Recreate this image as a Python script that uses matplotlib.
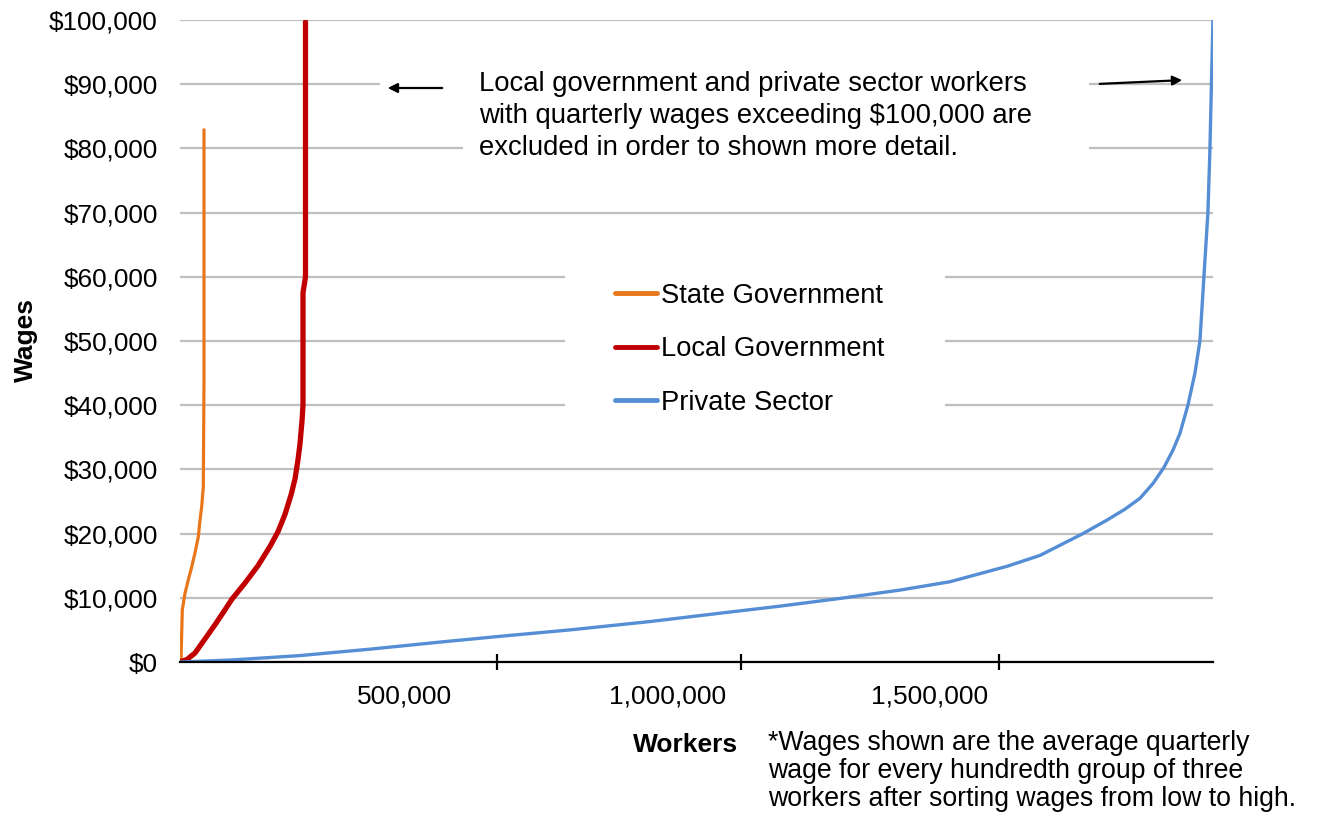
import matplotlib
matplotlib.use("Agg")
import matplotlib.pyplot as plt
from matplotlib.patches import Rectangle

plt.rcParams["font.family"] = ["Liberation Sans", "DejaVu Sans"]

# cumulative workers (sorted low to high) and average quarterly wage
state_workers = [0, 1905, 3240, 4380, 9525, 15800, 22290, 28570, 34860, 38100,
                 41340, 44390, 45720, 45720]
state_wages = [0, 300, 4500, 8100, 10700, 12800, 14800, 17000, 19500, 22100,
               24200, 27300, 43900, 82900]

local_workers = [0, 13335, 28575, 47625, 66675, 83820, 99060, 123825, 148590,
                 171450, 186690, 200025, 211455, 219075, 224790, 228600, 232410,
                 234315, 234315, 239078, 239078]
local_wages = [0, 400, 1400, 3600, 5800, 7900, 9800, 12300, 15000, 18000, 20300,
               23000, 26000, 28500, 31500, 34000, 37500, 40000, 57500, 60000, 99700]

private_workers = [0, 95250, 228600, 361950, 495300, 609600, 742950, 895350,
                   1028700, 1143000, 1257300, 1371600, 1466850, 1575400, 1638300,
                   1720200, 1765900, 1800200, 1828800, 1853600, 1874500, 1891700,
                   1905000, 1920200, 1933600, 1943100, 1950700, 1958300, 1962200,
                   1965000, 1967900]
private_wages = [0, 300, 1000, 2000, 3100, 4000, 5000, 6300, 7600, 8700, 9900,
                 11200, 12500, 14900, 16600, 20000, 22100, 23800, 25500, 27800,
                 30300, 33000, 35600, 40000, 45000, 50000, 60000, 70000, 80000,
                 90000, 100000]

wage_ticks = list(range(0, 100001, 10000))
x_tick_marks = [604000, 1069000, 1560000]
x_label_pos = [428600, 928600, 1428600]
x_labels = ["500,000", "1,000,000", "1,500,000"]

X_MAX = 1968000
PX = 1905          # workers per pixel, used for placing notes
W = 1326
H = 815


def dx(px):
    return (px - 180) * PX


def dy(py):
    return (662 - py) / 642 * 100000


fig = plt.figure(figsize=(W / 100, H / 100), dpi=100)
ax = fig.add_axes([180 / W, 1 - 662 / H, 1033 / W, 642 / H])

ax.set_xlim(0, X_MAX)
ax.set_ylim(0, 100000)

ax.plot(state_workers, state_wages, color="#E8761A", lw=2.3, label="State Government",
        solid_capstyle="round", solid_joinstyle="round", zorder=3)
ax.plot(local_workers, local_wages, color="#C00000", lw=3.8, label="Local Government",
        solid_capstyle="round", solid_joinstyle="round", zorder=3)
ax.plot(private_workers, private_wages, color="#558ED5", lw=2.4, label="Private Sector",
        solid_capstyle="round", solid_joinstyle="round", zorder=3)

ax.set_yticks(wage_ticks)
ax.set_yticklabels(["${:,}".format(v) for v in wage_ticks])
ax.tick_params(axis="y", length=0, pad=16, labelsize=18.8)
ax.yaxis.grid(True, color="#BFBFBF", lw=1.6)
ax.set_axisbelow(True)

ax.set_xticks(x_tick_marks)
ax.set_xticklabels([])
ax.tick_params(axis="x", which="major", direction="inout", length=11, width=1.6,
               color="black")
ax.set_xticks(x_label_pos, minor=True)
ax.set_xticklabels(x_labels, minor=True)
ax.tick_params(axis="x", which="minor", length=0, pad=16, labelsize=19)

for s in ["left", "top", "right"]:
    ax.spines[s].set_visible(False)
ax.spines["bottom"].set_linewidth(1.6)
ax.spines["bottom"].set_zorder(4)

# white boxes behind the note and the legend
ax.add_patch(Rectangle((dx(463), dy(170)), dx(1089) - dx(463), dy(60) - dy(170),
                       facecolor="white", edgecolor="none", zorder=1))
ax.add_patch(Rectangle((dx(380), dy(100)), dx(463) - dx(380), dy(72) - dy(100),
                       facecolor="white", edgecolor="none", zorder=1))
ax.add_patch(Rectangle((dx(565), dy(422)), dx(945) - dx(565), dy(262) - dy(422),
                       facecolor="white", edgecolor="none", zorder=1))

ax.text(dx(479), dy(116),
        "Local government and private sector workers\n"
        "with quarterly wages exceeding $100,000 are\n"
        "excluded in order to shown more detail.",
        fontsize=19.8, ha="left", va="center", linespacing=1.3, zorder=2)

ax.annotate("", xy=(dx(385), dy(88)), xytext=(dx(445), dy(88)),
            arrowprops=dict(arrowstyle="-|>", color="black", lw=1.6,
                            mutation_scale=14), zorder=2)
ax.annotate("", xy=(dx(1185), dy(80)), xytext=(dx(1097), dy(84)),
            arrowprops=dict(arrowstyle="-|>", color="black", lw=1.6,
                            mutation_scale=14), zorder=2)

leg = ax.legend(loc="upper left", bbox_to_anchor=((615 - 180) / 1033, (662 - 283) / 642),
                frameon=False, fontsize=19.7, handlelength=1.55, handletextpad=0.12,
                labelspacing=1.0, borderpad=0, borderaxespad=0)
for line in leg.get_lines():
    line.set_linewidth(3.5)

fig.text(686 / W, 1 - 745 / H, "Workers", fontsize=19, fontweight="bold",
         ha="center", va="center")
fig.text(26 / W, 1 - 340 / H, "Wages", fontsize=19, fontweight="bold",
         ha="center", va="center", rotation=90)
fig.text(768 / W, 1 - 771 / H,
         "*Wages shown are the average quarterly\n"
         "wage for every hundredth group of three\n"
         "workers after sorting wages from low to high.",
         fontsize=19.2, ha="left", va="center", linespacing=1.1)

fig.savefig("out.png", dpi=100)
